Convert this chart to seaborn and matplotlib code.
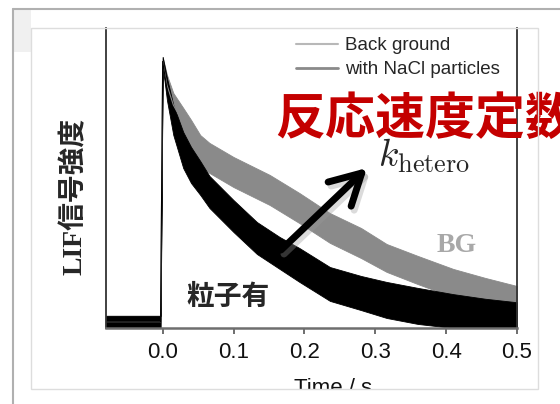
import matplotlib
matplotlib.use("Agg")
import matplotlib.pyplot as plt
import seaborn as sns
import pandas as pd
from matplotlib.lines import Line2D
from matplotlib.patches import Rectangle

# ---------------- data (intensity normalised to peak = 1) ----------------
time_bg = [-0.08, -0.003, 0.0, 0.006, 0.015, 0.029, 0.04, 0.053, 0.066, 0.1, 0.151,
           0.193, 0.236, 0.28, 0.316, 0.36, 0.41, 0.455, 0.5]
bg_upper = [0.045, 0.045, 1.0, 0.934, 0.867, 0.812, 0.768, 0.712, 0.683, 0.631, 0.565,
            0.498, 0.424, 0.369, 0.310, 0.266, 0.218, 0.185, 0.155]
bg_lower = [0.0, 0.0, 0.967, 0.860, 0.779, 0.701, 0.657, 0.601, 0.572, 0.520, 0.454,
            0.387, 0.314, 0.258, 0.207, 0.162, 0.114, 0.089, 0.066]

time_nacl = [-0.08, -0.003, 0.0, 0.006, 0.015, 0.029, 0.04, 0.053, 0.066, 0.1, 0.133,
             0.165, 0.193, 0.236, 0.28, 0.316, 0.36, 0.41, 0.455, 0.5]
nacl_upper = [0.045, 0.045, 1.0, 0.923, 0.823, 0.723, 0.668, 0.616, 0.561, 0.472, 0.391,
              0.336, 0.295, 0.225, 0.192, 0.170, 0.148, 0.125, 0.108, 0.095]
nacl_lower = [0.0, 0.0, 0.967, 0.841, 0.712, 0.590, 0.535, 0.491, 0.443, 0.354, 0.273,
              0.218, 0.170, 0.100, 0.066, 0.037, 0.015, 0.0, 0.0, 0.0]

series_names = ["Back ground", "with NaCl particles"]
x_ticks = [0.0, 0.1, 0.2, 0.3, 0.4, 0.5]
x_tick_labels = ["0.0", "0.1", "0.2", "0.3", "0.4", "0.5"]

rows = []
for t, u, l in zip(time_bg, bg_upper, bg_lower):
    rows += [(t, u, series_names[0]), (t, l, series_names[0])]
for t, u, l in zip(time_nacl, nacl_upper, nacl_lower):
    rows += [(t, u, series_names[1]), (t, l, series_names[1])]
df = pd.DataFrame(rows, columns=["time", "value", "series"])

# ---------------- style ----------------
sns.set_style("white")
plt.rcParams["font.family"] = ["Liberation Sans", "Noto Sans CJK JP", "DejaVu Sans"]
plt.rcParams["mathtext.fontset"] = "cm"

W, H = 560, 404
fig = plt.figure(figsize=(W / 100, H / 100), dpi=100)
fig.patch.set_facecolor("white")


def fx(x):
    return x / W


def fy(y):
    return 1 - y / H


ax = fig.add_axes([fx(106), fy(328), fx(517) - fx(106), (328 - 28) / H])

sns.lineplot(
    data=df, x="time", y="value", hue="series", hue_order=series_names,
    palette={series_names[0]: "#8a8a8a", series_names[1]: "#000000"},
    estimator="mean", errorbar=("pi", 100),
    err_kws={"alpha": 1.0, "linewidth": 0.6}, linewidth=0.8,
    legend=False, ax=ax,
)

ax.set_xlim(-0.08, 0.5)
ax.set_ylim(0, 1.107)
ax.set_xticks(x_ticks)
ax.set_xticklabels(x_tick_labels, fontsize=16, color="#111111")
ax.set_yticks([])
ax.set_xlabel("")
ax.set_ylabel("")
ax.tick_params(axis="x", direction="out", length=4, width=1.2, color="#555555", pad=6, bottom=True)
ax.spines["top"].set_visible(False)
ax.spines["left"].set_color("#333333")
ax.spines["left"].set_linewidth(1.3)
ax.spines["right"].set_color("#333333")
ax.spines["right"].set_linewidth(1.3)
ax.spines["bottom"].set_color("#6e6e6e")
ax.spines["bottom"].set_linewidth(1.8)

# legend
handles = [
    Line2D([], [], color="#b8b8b8", lw=1.5),
    Line2D([], [], color="#8a8a8a", lw=2.0),
]
ax.legend(handles, series_names, loc="upper left",
          bbox_to_anchor=(fx(296), fy(37)), bbox_transform=fig.transFigure,
          frameon=False, borderpad=0, borderaxespad=0, handlelength=2.25,
          handletextpad=0.38, labelspacing=0.38, fontsize=13.5)

# y label
fig.text(fx(75), fy(196), "LIF信号強度", rotation=90, ha="center", va="center",
         fontsize=20, fontweight="bold",
         family=["Liberation Serif", "Noto Sans CJK JP"])

# x label (partially hidden by the slide frame below)
fig.text(fx(333), fy(378), "Time / s", ha="center", va="top", fontsize=16, color="#111111")

# annotations
fig.text(fx(275), fy(119), "反応速度定数", ha="left", va="center", fontsize=36,
         fontweight="bold", color="#c40000", family=["Noto Sans CJK JP"])
fig.text(fx(378), fy(167), r"$k_{\rm hetero}$", ha="left", va="baseline", fontsize=27)
fig.text(fx(457), fy(245), "BG", ha="center", va="center", fontsize=20,
         fontweight="bold", color="#a8a8a8", family=["Liberation Serif"])
fig.text(fx(228), fy(297), "粒子有", ha="center", va="center", fontsize=20,
         fontweight="bold", family=["Noto Sans CJK JP"])

# arrow with soft shadow
for dx, dy, col, alpha in [(3, -4, "#999999", 0.35), (0, 0, "black", 1.0)]:
    ax.annotate("", xy=(fx(367 + dx), fy(168 - dy)), xytext=(fx(281 + dx), fy(250 - dy)),
                xycoords="figure fraction", textcoords="figure fraction",
                arrowprops=dict(arrowstyle="->,head_length=1.1,head_width=0.6",
                                lw=5, color=col, alpha=alpha, mutation_scale=20,
                                capstyle="round", joinstyle="round",
                                shrinkA=0, shrinkB=0),
                annotation_clip=False)

# slide frame artefacts
fig.patches.append(Rectangle((fx(14), 0), fx(556) - fx(14), fy(389.5), transform=fig.transFigure,
                             facecolor="white", edgecolor="none", zorder=10))
fig.patches.append(Rectangle((fx(31), fy(389)), fx(538) - fx(31), (389 - 28) / H,
                             transform=fig.transFigure, facecolor="none",
                             edgecolor="#dddddd", lw=1.0, zorder=11))
fig.patches.append(Rectangle((fx(13), fy(52)), fx(31) - fx(13), (52 - 9) / H,
                             transform=fig.transFigure, facecolor="#f0f0f0",
                             edgecolor="none", zorder=0.5))
fig.lines.append(Line2D([fx(13), fx(13)], [0, fy(9)], transform=fig.transFigure,
                        color="#b0b0b0", lw=1.5, zorder=12))
fig.lines.append(Line2D([fx(13), 1], [fy(9), fy(9)], transform=fig.transFigure,
                        color="#b0b0b0", lw=1.5, zorder=12))

fig.savefig("out.png", dpi=100)
